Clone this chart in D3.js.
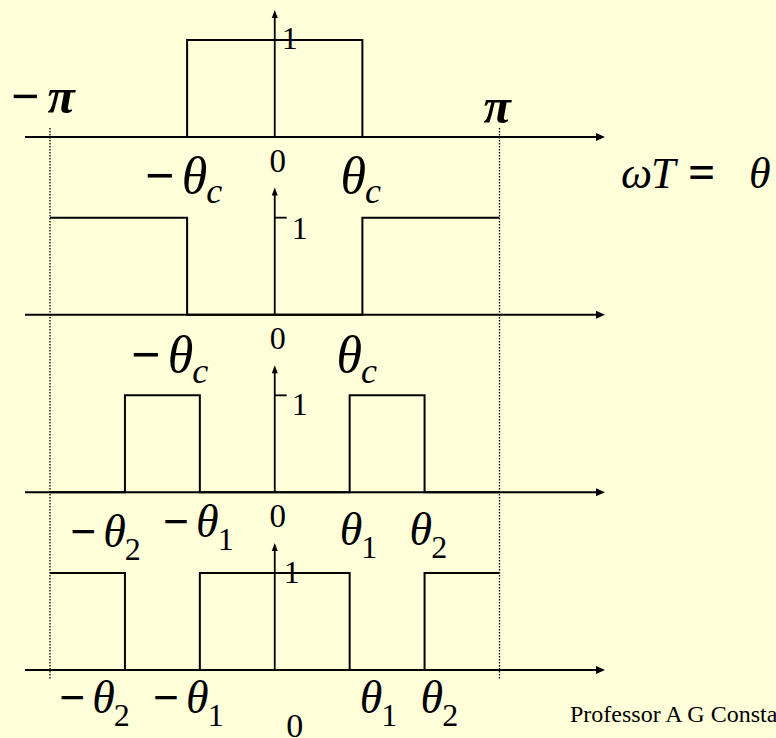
<!DOCTYPE html>
<html>
<head>
<meta charset="utf-8">
<script src="https://cdn.jsdelivr.net/npm/d3@7"></script>
<style>
  html, body { margin: 0; padding: 0; background: #FFFFDA; }
  svg { display: block; }
  text { font-family: "Liberation Serif", "Times New Roman", serif; fill: #000; }
</style>
</head>
<body>
<svg id="chart" width="776" height="738"></svg>
<script>
const PI = Math.PI;

// Band edges (radians)
const thetaC = 1.225;
const theta1 = 1.047;
const theta2 = 2.094;

// The four ideal filters, one per row
const filters = ["lowpass", "highpass", "bandpass", "bandstop"];

// Breakpoints along θ and the gain that starts at each breakpoint
const breakFreqs = [
  [-PI, -thetaC, thetaC, PI],
  [-PI, -thetaC, thetaC, PI],
  [-PI, -theta2, -theta1, theta1, theta2, PI],
  [-PI, -theta2, -theta1, theta1, theta2, PI]
];
const breakGains = [
  [0, 1, 0, 0],
  [1, 0, 1, 1],
  [0, 1, 0, 1, 0, 0],
  [1, 0, 1, 0, 1, 1]
];

// Edge labels under each axis
const edgeValues = [
  [-thetaC, thetaC],
  [-thetaC, thetaC],
  [-theta2, -theta1, theta1, theta2],
  [-theta2, -theta1, theta1, theta2]
];
const edgeTexts = [
  [{ neg: true, sym: "θ", sub: "c" }, { neg: false, sym: "θ", sub: "c" }],
  [{ neg: true, sym: "θ", sub: "c" }, { neg: false, sym: "θ", sub: "c" }],
  [{ neg: true, sym: "θ", sub: "2" }, { neg: true, sym: "θ", sub: "1" },
   { neg: false, sym: "θ", sub: "1" }, { neg: false, sym: "θ", sub: "2" }],
  [{ neg: true, sym: "θ", sub: "2" }, { neg: true, sym: "θ", sub: "1" },
   { neg: false, sym: "θ", sub: "1" }, { neg: false, sym: "θ", sub: "2" }]
];
const unitLabel = "1";
const zeroLabel = "0";
const nyquistValues = [-PI, PI];
const nyquistTexts = ["−π", "π"];

// ---------- layout ----------
const svg = d3.select("#chart");
const W = 776, H = 738;

svg.append("rect").attr("width", W).attr("height", H).attr("fill", "#FFFFDA");

const x = d3.scaleLinear().domain([-PI, PI]).range([50, 499.5]);
const rowY = d3.scalePoint().domain(filters).range([137, 670]);
const gain = d3.scaleLinear().domain([0, 1]).range([0, -97]);

const axisLeft = x.invert(25);
const axisRight = x.invert(605);
const arrowGain = 1.31;

// label offsets per row: [dx from edge, baseline below axis]
const edgeOffsets = [
  [[-42, 56], [-22, 56]],
  [[-56, 57], [-26, 57]],
  [[-55, 55], [-37, 45], [-10, 53], [-15, 53]],
  [[-66, 43], [-47, 43], [10, 43], [-4, 43]]
];
const symSize = [52, 52, 46, 46];
const subSize = [36, 36, 32, 32];
const subDrop = [10, 11, 13, 13];
const zeroPos = [[3, 35, 33], [3, 34, 32], [3, 35, 33], [20, 67, 34]];
const unitPos = [[7, 9], [17, 21], [17, 20], [9, 10]];

// dotted lines at ±π spanning all rows
const dotTop = rowY(filters[0]) - 9;
const dotBottom = rowY(filters[filters.length - 1]) + 9;
svg.selectAll("line.nyq")
  .data(nyquistValues)
  .join("line")
  .attr("class", "nyq")
  .attr("x1", d => x(d)).attr("x2", d => x(d))
  .attr("y1", dotTop).attr("y2", dotBottom)
  .attr("stroke", "#000").attr("stroke-width", 1.3)
  .attr("stroke-dasharray", "1.6,1.4");

const stepLine = d3.line().curve(d3.curveStepAfter);

filters.forEach((f, i) => {
  const y0 = rowY(f);
  const g = svg.append("g").attr("class", "row-" + f);

  // horizontal axis with arrow
  g.append("line")
    .attr("x1", x(axisLeft)).attr("x2", x(axisRight) - 6)
    .attr("y1", y0).attr("y2", y0)
    .attr("stroke", "#000").attr("stroke-width", 2);
  g.append("path")
    .attr("d", `M${x(axisRight)},${y0} L${x(axisRight) - 9},${y0 - 4} L${x(axisRight) - 9},${y0 + 4} Z`)
    .attr("fill", "#000");

  // vertical axis with arrow
  const tipY = y0 + gain(arrowGain);
  g.append("line")
    .attr("x1", x(0)).attr("x2", x(0))
    .attr("y1", y0).attr("y2", tipY + 5)
    .attr("stroke", "#000").attr("stroke-width", 1.8);
  g.append("path")
    .attr("d", `M${x(0)},${tipY} L${x(0) - 3},${tipY + 8} L${x(0) + 3},${tipY + 8} Z`)
    .attr("fill", "#000");

  // unit tick
  g.append("line")
    .attr("x1", x(0)).attr("x2", x(0) + 12)
    .attr("y1", y0 + gain(1)).attr("y2", y0 + gain(1))
    .attr("stroke", "#000").attr("stroke-width", 1.8);

  // magnitude response
  const pts = breakFreqs[i].map((v, k) => [x(v), y0 + gain(breakGains[i][k])]);
  g.append("path")
    .attr("d", stepLine(pts))
    .attr("fill", "none")
    .attr("stroke", "#000")
    .attr("stroke-width", 2)
    .attr("stroke-linejoin", "miter");

  // "1" label
  g.append("text")
    .attr("x", x(0) + unitPos[i][0])
    .attr("y", y0 + gain(1) + unitPos[i][1])
    .attr("font-size", 32)
    .text(unitLabel);

  // "0" label
  g.append("text")
    .attr("x", x(0) + zeroPos[i][0])
    .attr("y", y0 + zeroPos[i][1])
    .attr("text-anchor", "middle")
    .attr("font-size", zeroPos[i][2])
    .text(zeroLabel);

  // band-edge labels
  edgeValues[i].forEach((v, k) => {
    const lab = edgeTexts[i][k];
    const t = g.append("text")
      .attr("x", x(v) + edgeOffsets[i][k][0])
      .attr("y", y0 + edgeOffsets[i][k][1])
      .attr("font-size", symSize[i]);
    if (lab.neg) {
      t.append("tspan").attr("font-weight", "bold").text("−");
    }
    t.append("tspan")
      .attr("font-style", "italic")
      .attr("dx", lab.neg ? 7 : 0)
      .text(lab.sym);
    t.append("tspan")
      .attr("font-size", subSize[i])
      .attr("font-style", lab.sub === "c" ? "italic" : "normal")
      .attr("dx", -1)
      .attr("dy", subDrop[i])
      .text(lab.sub);
  });
});

// ±π labels above the first axis
const nyqOffsets = [[-39, -24], [-16, -14]];
const y1 = rowY(filters[0]);
nyquistValues.forEach((v, k) => {
  const t = svg.append("text")
    .attr("x", x(v) + nyqOffsets[k][0])
    .attr("y", y1 + nyqOffsets[k][1])
    .attr("font-size", 50);
  const s = nyquistTexts[k];
  if (s.startsWith("−")) {
    t.append("tspan").attr("font-weight", "bold").text("−");
    t.append("tspan").attr("dx", 8).attr("font-weight", "bold").attr("font-style", "italic").text("π");
  } else {
    t.append("tspan").attr("font-weight", "bold").attr("font-style", "italic").text(s);
  }
});

// frequency variable
const eq = svg.append("text").attr("y", 188).attr("font-size", 44);
eq.append("tspan").attr("x", 621).attr("font-style", "italic").text("ω");
eq.append("tspan").attr("x", 651).attr("font-style", "italic").text("T");
eq.append("tspan").attr("x", 688).attr("font-size", 48).attr("font-weight", "bold").text("=");
eq.append("tspan").attr("x", 749).attr("font-style", "italic").text("θ");

// author credit
svg.append("text")
  .attr("x", 570).attr("y", 722)
  .attr("font-size", 24)
  .text("Professor A G Constantinides");
</script>
</body>
</html>
